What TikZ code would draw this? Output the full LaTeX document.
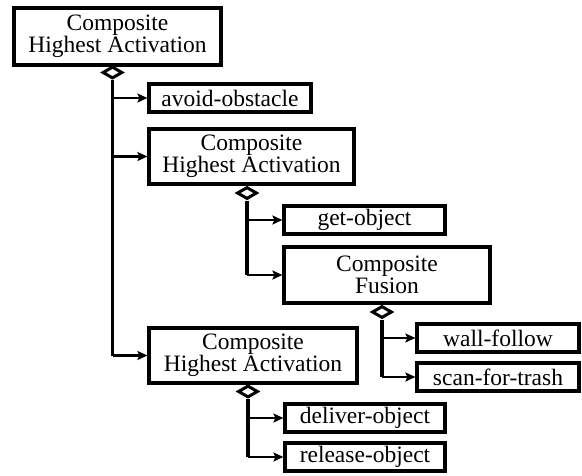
\documentclass[tikz,border=0pt]{standalone}
\usepackage{fontspec}
\setmainfont{Liberation Serif}
\usetikzlibrary{shapes.geometric,arrows.meta}
\begin{document}
\begin{tikzpicture}[x=1pt,y=-1pt,
  box/.style={draw=black,line width=3.2pt,fill=white,inner sep=0pt,align=center,
    font=\fontsize{23.5}{22}\selectfont},
  dia/.style={draw=black,diamond,line width=3pt,fill=white,inner sep=0pt,
    minimum width=20pt,minimum height=12pt},
  trunk/.style={line width=3.2pt},
  branch/.style={line width=2.3pt,-{Stealth[length=10pt,width=9pt,inset=2pt]}}]
\useasboundingbox (0,0) rectangle (582,475);
% boxes
\node[box,minimum width=207pt,minimum height=57pt] (c1) at (117.5,36.5) {Composite\\Highest Activation};
\node[box,minimum width=162pt,minimum height=28pt] (avoid) at (230,98) {avoid-obstacle};
\node[box,minimum width=205pt,minimum height=55pt] (c2) at (251.5,156.5) {Composite\\Highest Activation};
\node[box,minimum width=161pt,minimum height=28pt] (get) at (364.5,220) {get-object};
\node[box,minimum width=206pt,minimum height=56pt] (fus) at (387,275) {Composite\\Fusion};
\node[box,minimum width=162pt,minimum height=28pt] (wall) at (498,338) {wall-follow};
\node[box,minimum width=162pt,minimum height=28pt] (scan) at (498,377) {scan-for-trash};
\node[box,minimum width=208pt,minimum height=55pt] (c3) at (253,355.5) {Composite\\Highest Activation};
\node[box,minimum width=160pt,minimum height=28pt] (deliver) at (365,418) {deliver-object};
\node[box,minimum width=160pt,minimum height=28pt] (release) at (365,457) {release-object};
% diamonds
\node[dia] (d1) at (112.5,72.5) {};
\node[dia] (d2) at (247,193) {};
\node[dia] (d3) at (382,312) {};
\node[dia] (d4) at (248,391.5) {};
% trunks
\draw[trunk] (d1.south) -- (d1.south |- c3.west);
\draw[trunk] (d2.south) -- (d2.south |- fus.west);
\draw[trunk] (d3.south) -- (d3.south |- scan.west);
\draw[trunk] (d4.south) -- (d4.south |- release.west);
% branches
\draw[branch] (d1.south |- avoid.west) -- (avoid.west);
\draw[branch] (d1.south |- c2.west) -- (c2.west);
\draw[branch] (d1.south |- c3.west) -- (c3.west);
\draw[branch] (d2.south |- get.west) -- (get.west);
\draw[branch] (d2.south |- fus.west) -- (fus.west);
\draw[branch] (d3.south |- wall.west) -- (wall.west);
\draw[branch] (d3.south |- scan.west) -- (scan.west);
\draw[branch] (d4.south |- deliver.west) -- (deliver.west);
\draw[branch] (d4.south |- release.west) -- (release.west);
\end{tikzpicture}
\end{document}
